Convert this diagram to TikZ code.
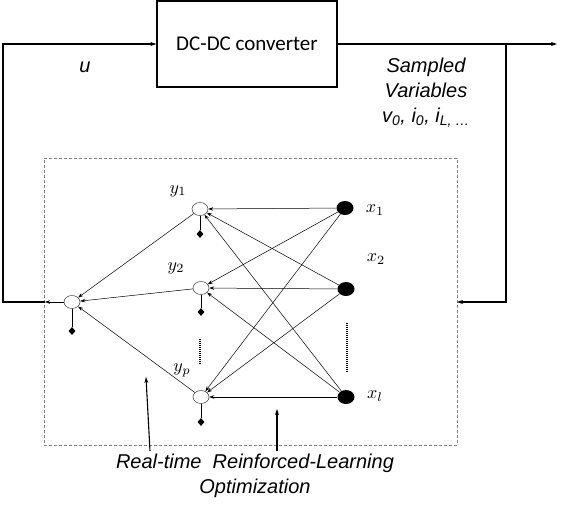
\documentclass[tikz,border=0pt]{standalone}
\usepackage{fontspec}
\usepackage{graphicx}
\setmainfont{Liberation Sans}
\newfontfamily\carlitofont{Carlito}
\usetikzlibrary{arrows.meta,shapes.geometric}
\newcommand{\biglbl}[1]{\scalebox{1.8}{$#1$}}
\begin{document}
\begin{tikzpicture}[x=1pt,y=-1pt,
  hid/.style={ellipse, draw=black!75, line width=0.5pt, fill=white, minimum width=16pt, minimum height=13pt, inner sep=0pt},
  inp/.style={ellipse, fill=black, minimum width=17pt, minimum height=14pt, inner sep=0pt},
  bias/.style={diamond, fill=black, minimum width=7pt, minimum height=8pt, inner sep=0pt},
  conn/.style={line width=0.5pt, -{Stealth[length=5pt,width=3.5pt]}},
  stem/.style={line width=0.6pt},
  looparrow/.style={line width=1.1pt, -{Stealth[length=6pt,width=4pt]}},
  lbl/.style={inner sep=0pt},
  txt/.style={font=\fontsize{20}{25}\selectfont\itshape, inner sep=0pt},
  dots/.style={line width=1.2pt, dash pattern=on 1pt off 1pt}
]
\useasboundingbox (0,0) rectangle (563,512);

% dashed frame
\node[draw=gray, dash pattern=on 3pt off 2pt, line width=0.6pt, minimum width=413pt, minimum height=287pt, inner sep=0pt] (nn) at (250.5,301.5) {};

% converter block
\node[draw, line width=1.1pt, minimum width=180pt, minimum height=86pt, inner sep=0pt, font=\carlitofont\fontsize{21}{25}\selectfont] (box) at (247,44) {DC-DC converter};

% coordinates of the loop
\coordinate (outend) at (557,44);
\coordinate (tapR) at (506,44);
\coordinate (cornR) at (506,302);
\coordinate (dashR) at (457,302);
\coordinate (dashL) at (45,302);
\coordinate (cornL) at (3,302);

\draw[looparrow] (box.east) -- (outend);
\draw[looparrow] (tapR) -- (cornR) -- (dashR);
\draw[looparrow] (dashL) -- (cornL) |- (box.west);

% neurons
\node[hid] (out) at (72,302) {};
\node[hid] (h1) at (200,209) {};
\node[hid] (h2) at (201,288) {};
\node[hid] (hp) at (201,397) {};
\node[inp] (i1) at (345,208) {};
\node[inp] (i2) at (346,289) {};
\node[inp] (il) at (346,397) {};

% biases
\node[bias] (bo) at (72,331) {};
\node[bias] (b1) at (200,234) {};
\node[bias] (b2) at (201,312) {};
\node[bias] (bp) at (201,422) {};
\draw[stem] (out) -- (bo);
\draw[stem] (h1) -- (b1);
\draw[stem] (h2) -- (b2);
\draw[stem] (hp) -- (bp);

% connections
\foreach \s in {i1,i2,il}{
  \foreach \t in {h1,h2,hp}{
    \draw[conn] (\s) -- (\t);
  }
}
\foreach \t in {h1,h2,hp}{
  \draw[conn] (\t) -- (out);
}
\draw[conn] (out) -- (dashL);

% dots
\coordinate (dh1) at (200,339);
\coordinate (dh2) at (200,365);
\coordinate (di1) at (347,323);
\coordinate (di2) at (347,372);
\draw[dots] (dh1) -- (dh2);
\draw[dots] (di1) -- (di2);

% labels
\node[lbl] (ly1) at (178,191) {\biglbl{y_1}};
\node[lbl] (ly2) at (176,268) {\biglbl{y_2}};
\node[lbl] (lyp) at (182,370) {\biglbl{y_p}};
\node[lbl] (lx1) at (375,210) {\biglbl{x_1}};
\node[lbl] (lx2) at (376,259) {\biglbl{x_2}};
\node[lbl] (lxl) at (375,396) {\biglbl{x_l}};

% upward arrows
\coordinate (a1s) at (150,451);
\coordinate (a1e) at (146,377);
\coordinate (a2s) at (277,451);
\coordinate (a2e) at (277,409);
\draw[looparrow] (a1s) -- (a1e);
\draw[looparrow] (a2s) -- (a2e);

% texts
\node[txt] (u) at (85,67) {u};
\node[txt, align=center] (sv) at (426,93) {Sampled\\Variables\\v\textsubscript{0}, i\textsubscript{0}, i\textsubscript{L, …}};
\node[txt, align=center] (rl) at (255,476) {Real-time\ \ Reinforced-Learning\\Optimization};
\end{tikzpicture}
\end{document}
